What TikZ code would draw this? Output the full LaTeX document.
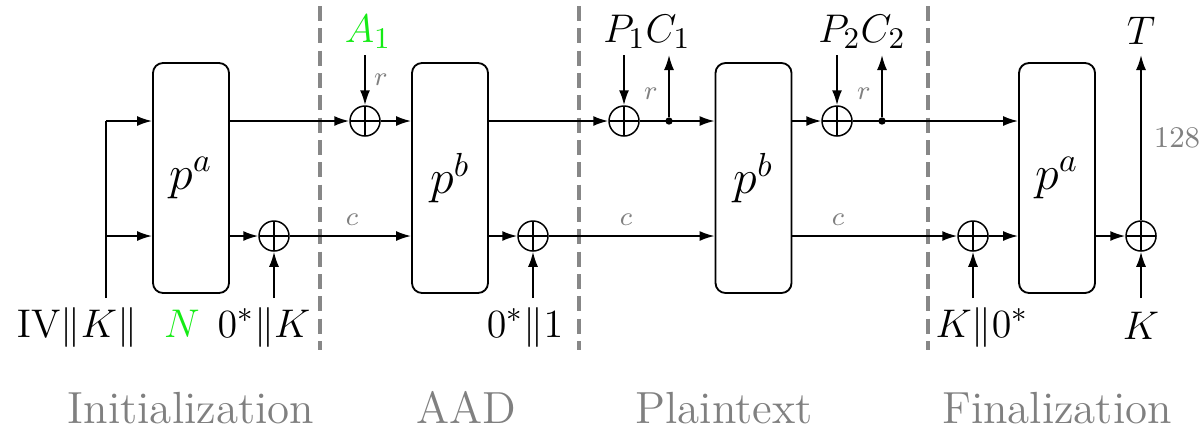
\documentclass[tikz,border=0pt]{standalone}
\usetikzlibrary{arrows.meta}
\definecolor{lblgray}{RGB}{128,128,128}
\definecolor{dashgray}{RGB}{135,135,135}
\definecolor{brgreen}{RGB}{20,235,20}
\begin{document}
\begin{tikzpicture}[x=0.3pt,y=-0.3pt,
  box/.style={draw, rounded corners=3pt, minimum width=22.8pt, minimum height=69pt, line width=0.55pt, inner sep=0pt, font=\fontsize{14}{16}\selectfont},
  xor/.style={circle, draw, minimum size=9pt, inner sep=0pt, line width=0.45pt,
    path picture={\draw[line width=0.45pt] (path picture bounding box.north) -- (path picture bounding box.south) (path picture bounding box.west) -- (path picture bounding box.east);}},
  flow/.style={-{Latex[length=4.5pt,width=3pt]}, line width=0.55pt},
  plain/.style={line width=0.55pt},
  dotnode/.style={circle, fill, inner sep=0pt, minimum size=2.2pt},
  lbl/.style={font=\fontsize{12.8}{14}\selectfont, inner sep=0pt, anchor=base},
  small/.style={font=\fontsize{8.5}{9}\selectfont, text=lblgray, inner sep=0pt},
  numlbl/.style={font=\fontsize{9.5}{11}\selectfont, text=lblgray, inner sep=0pt},
  stage/.style={font=\fontsize{13.5}{15}\selectfont, text=lblgray, inner sep=0pt, anchor=base},
  sep/.style={draw=dashgray, line width=1.2pt, dash pattern=on 4.5pt off 2.2pt}
]
\useasboundingbox (0,0) rectangle (1204,431);

% separators
\draw[sep] (320,6) -- (320,350);
\draw[sep] (579,6) -- (579,350);
\draw[sep] (928,6) -- (928,350);

% boxes
\node[box] (B1) at (191,178) {$p^a$};
\node[box] (B2) at (450,178) {$p^b$};
\node[box] (B3) at (753.5,178) {$p^b$};
\node[box] (B4) at (1057,178) {$p^a$};

% xors
\node[xor] (XA) at (365,121) {};
\node[xor] (XK1) at (274,236) {};
\node[xor] (XP1) at (624,121) {};
\node[xor] (X01) at (533,236) {};
\node[xor] (XP2) at (837,121) {};
\node[xor] (XK2) at (973,236) {};
\node[xor] (XT) at (1141,236) {};

% dots
\node[dotnode] (DP1) at (669,121) {};
\node[dotnode] (DP2) at (882,121) {};

% free-end coordinates
\coordinate (iv) at (106,298);
\coordinate (ivt) at (106,121);
\coordinate (ivb) at (106,236);
\coordinate (a1s) at (365,55);
\coordinate (p1s) at (624,55);
\coordinate (c1e) at (669,55);
\coordinate (p2s) at (837,55);
\coordinate (c2e) at (882,55);
\coordinate (te) at (1141,55);
\coordinate (k1s) at (274,298);
\coordinate (o1s) at (533,298);
\coordinate (k2s) at (973,298);
\coordinate (kts) at (1141,298);

% initialization
\draw[plain] (iv) -- (ivt);
\draw[flow] (ivt) -- (B1.west |- ivt);
\draw[flow] (ivb) -- (B1.west |- ivb);
\draw[flow] (B1.east |- XK1) -- (XK1);
\draw[flow] (k1s) -- (XK1);

% AAD
\draw[flow] (B1.east |- XA) -- (XA);
\draw[flow] (a1s) -- (XA);
\draw[flow] (XA) -- (B2.west |- XA);
\draw[flow] (XK1) -- (B2.west |- XK1);
\draw[flow] (B2.east |- X01) -- (X01);
\draw[flow] (o1s) -- (X01);

% plaintext
\draw[flow] (B2.east |- XP1) -- (XP1);
\draw[flow] (p1s) -- (XP1);
\draw[flow] (XP1) -- (B3.west |- XP1);
\draw[flow] (DP1) -- (c1e);
\draw[flow] (X01) -- (B3.west |- X01);

% finalization
\draw[flow] (B3.east |- XP2) -- (XP2);
\draw[flow] (p2s) -- (XP2);
\draw[flow] (XP2) -- (B4.west |- XP2);
\draw[flow] (DP2) -- (c2e);
\draw[flow] (B3.east |- XK2) -- (XK2);
\draw[flow] (k2s) -- (XK2);
\draw[flow] (XK2) -- (B4.west |- XK2);
\draw[flow] (B4.east |- XT) -- (XT);
\draw[flow] (kts) -- (XT);
\draw[flow] (XT) -- (te);

% small labels
\node[small] (r1) at (381,80) {$r$};
\node[small] (r2) at (651,94) {$r$};
\node[small] (r3) at (864,94) {$r$};
\node[small] (c1) at (352,220) {$c$};
\node[small] (c2) at (626,220) {$c$};
\node[small] (c3) at (838,220) {$c$};
\node[numlbl] (n128) at (1177,138) {$128$};

% top labels
\node[lbl, text=brgreen] (A1) at (368,42) {$A_1$};
\node[lbl] (P1C1) at (647,42) {$P_1C_1$};
\node[lbl] (P2C2) at (862,42) {$P_2C_2$};
\node[lbl] (T) at (1141,44) {$T$};

% bottom labels
\node[lbl] (IVK) at (77,337) {$\mathrm{IV}\|K\|$};
\node[lbl, text=brgreen] (N) at (182,337) {$N$};
\node[lbl] (ZK) at (264,337) {$0^*\|K$};
\node[lbl] (Z1) at (525,337) {$0^*\|1$};
\node[lbl] (KZ) at (982,337) {$K\|0^*$};
\node[lbl] (K) at (1141,339) {$K$};

% stage labels
\node[stage] (s1) at (191,423) {Initialization};
\node[stage] (s2) at (466,423) {AAD};
\node[stage] (s3) at (724,423) {Plaintext};
\node[stage] (s4) at (1057,423) {Finalization};
\end{tikzpicture}
\end{document}
